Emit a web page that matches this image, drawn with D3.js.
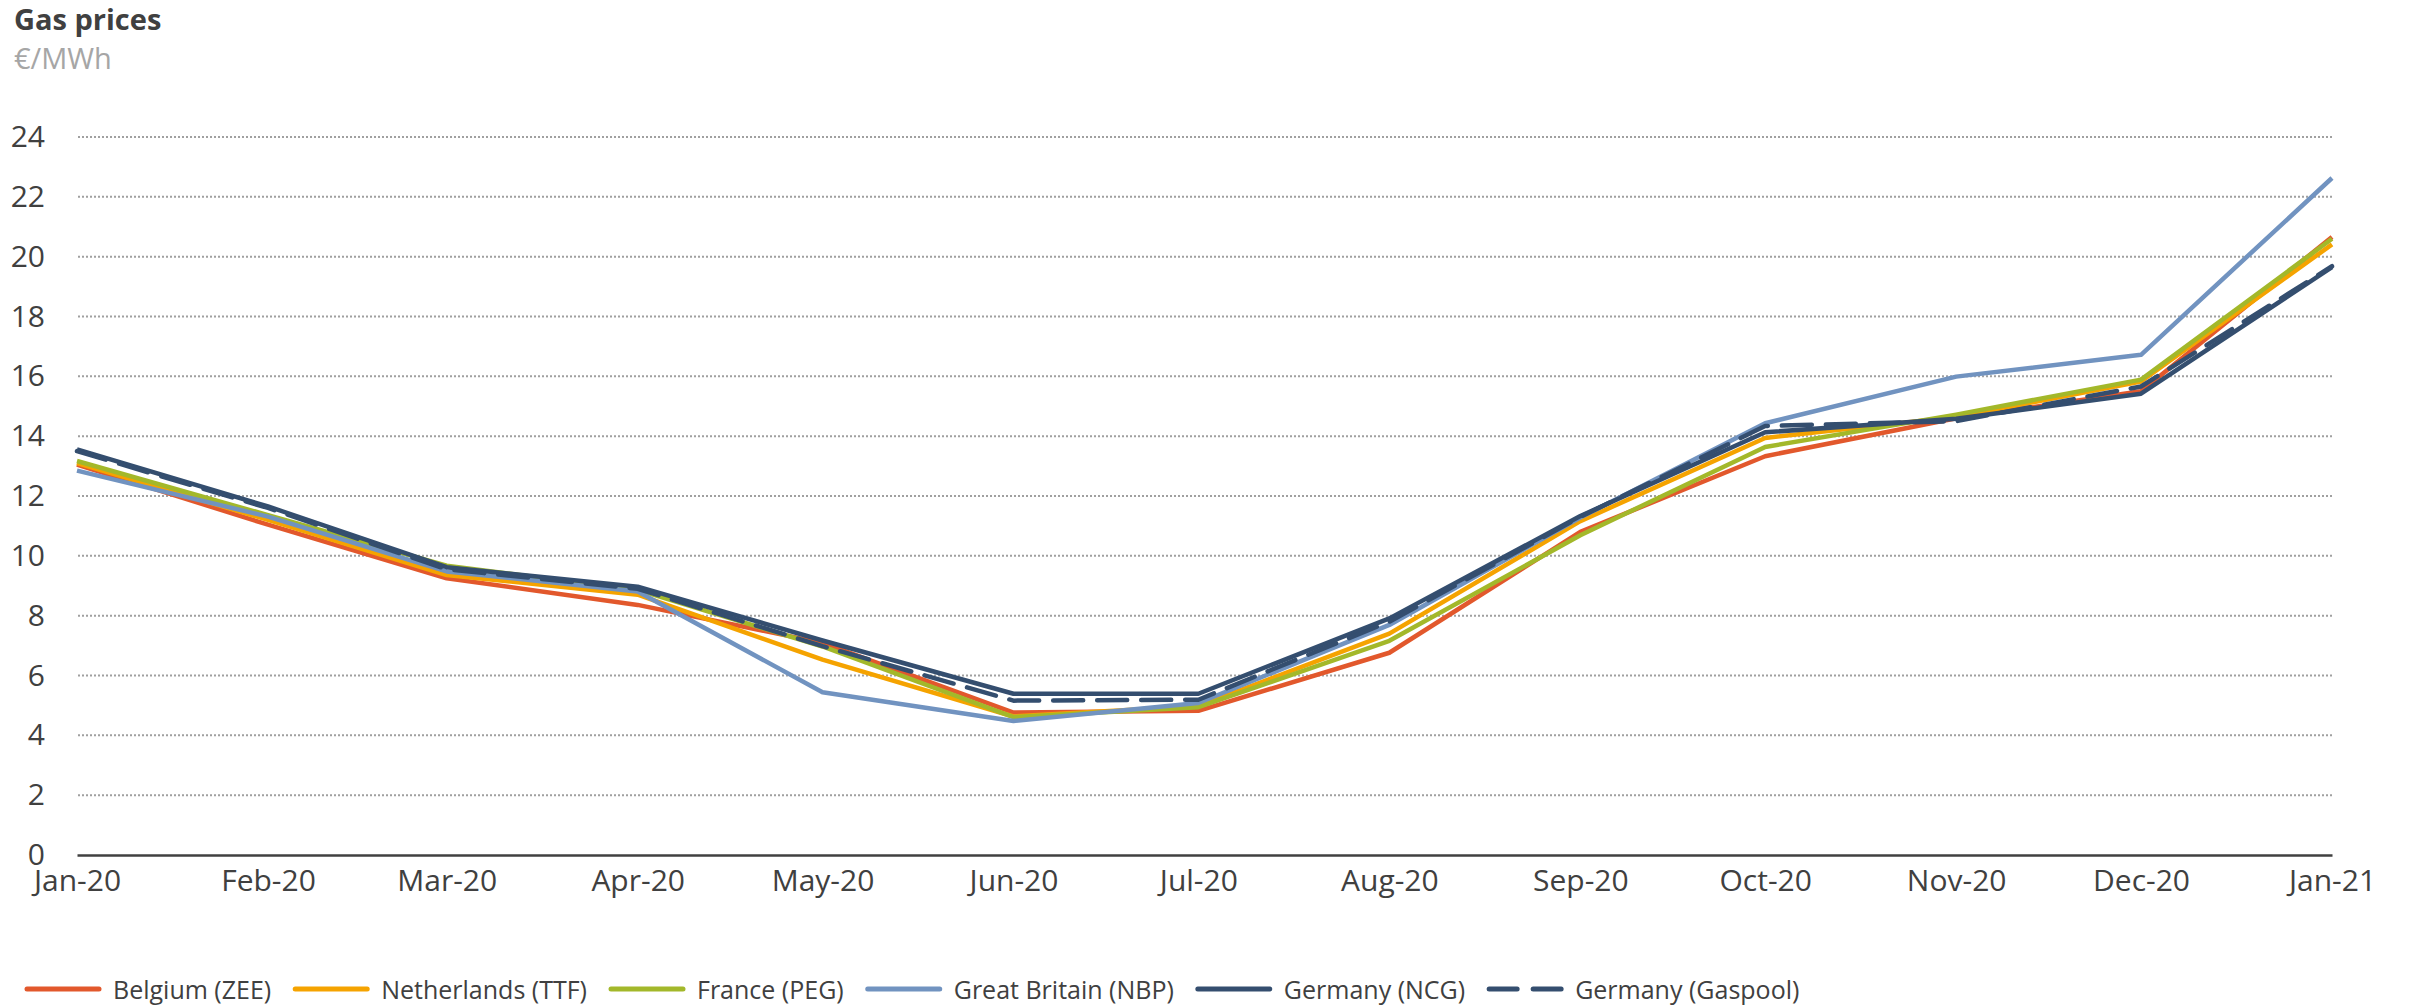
<!DOCTYPE html>
<html>
<head>
<meta charset="utf-8">
<script src="https://cdn.jsdelivr.net/npm/d3@7"></script>
<style>
  body { margin: 0; background: #fff; }
  svg { display: block; font-family: "Open Sans", "Noto Sans", sans-serif; }
</style>
</head>
<body>
<div id="chart"></div>
<script>
// monthly points, first day of each month
const months = ['2020-01-01','2020-02-01','2020-03-01','2020-04-01','2020-05-01','2020-06-01',
    '2020-07-01','2020-08-01','2020-09-01','2020-10-01','2020-11-01','2020-12-01','2021-01-01'];
const monthLabels = ['Jan-20','Feb-20','Mar-20','Apr-20','May-20','Jun-20','Jul-20',
    'Aug-20','Sep-20','Oct-20','Nov-20','Dec-20','Jan-21'];
const yTicks = [0, 2, 4, 6, 8, 10, 12, 14, 16, 18, 20, 22, 24];

const belgium     = [13.05, 11.04, 9.25, 8.36, 7.09, 4.76, 4.82, 6.76, 10.80, 13.33, 14.60, 15.50, 20.66];
const netherlands = [13.10, 11.20, 9.36, 8.70, 6.53, 4.63, 4.98, 7.40, 11.16, 13.94, 14.64, 15.83, 20.41];
const france      = [13.17, 11.36, 9.67, 8.86, 6.97, 4.61, 4.94, 7.16, 10.69, 13.64, 14.72, 15.89, 20.60];
const greatBritain= [12.85, 11.31, 9.48, 8.81, 5.44, 4.48, 5.08, 7.69, 11.28, 14.43, 15.99, 16.72, 22.63];
const germanyNcg  = [13.56, 11.65, 9.62, 8.97, 7.17, 5.39, 5.39, 7.91, 11.33, 14.13, 14.58, 15.42, 19.65];
const gaspool     = [13.50, 11.60, 9.55, 8.90, 6.98, 5.16, 5.19, 7.80, 11.30, 14.34, 14.50, 15.66, 19.68];

const series = [
    {name: 'Belgium (ZEE)', values: belgium, color: '#E2582C'},
    {name: 'Netherlands (TTF)', values: netherlands, color: '#F5A300'},
    {name: 'France (PEG)', values: france, color: '#A3B82A'},
    {name: 'Great Britain (NBP)', values: greatBritain, color: '#7193C0'},
    {name: 'Germany (NCG)', values: germanyNcg, color: '#344E6F'},
    {name: 'Germany (Gaspool)', values: gaspool, color: '#344E6F', dash: '30,14'}
];

const width = 2409, height = 1007;
const parse = d3.timeParse('%Y-%m-%d');
const dates = months.map(parse);

const svg = d3.select('#chart').append('svg')
    .attr('width', width)
    .attr('height', height);

// Title
svg.append('text')
    .attr('x', 14).attr('y', 30)
    .attr('fill', '#404040')
    .style('font-size', '29px')
    .style('font-weight', 'bold')
    .text('Gas prices');

svg.append('text')
    .attr('x', 14).attr('y', 69)
    .attr('fill', '#A6A6A6')
    .style('font-size', '29px')
    .text('€/MWh');

// Scales
const x = d3.scaleTime()
    .domain([dates[0], dates[dates.length - 1]])
    .range([77, 2332]);

const y = d3.scaleLinear()
    .domain([0, 24])
    .range([855, 137]);

// Gridlines
svg.append('g')
    .selectAll('line')
    .data(yTicks.filter(t => t > 0))
    .enter()
    .append('line')
    .attr('x1', 78).attr('x2', 2332)
    .attr('y1', d => y(d)).attr('y2', d => y(d))
    .attr('stroke', '#A0A0A0')
    .attr('stroke-width', 2)
    .attr('stroke-dasharray', '2,2');

// Y axis labels
const yAxis = svg.append('g')
    .attr('transform', 'translate(78,0)')
    .call(d3.axisLeft(y).tickValues(yTicks).tickSize(0).tickPadding(33));
yAxis.select('.domain').remove();
yAxis.selectAll('text')
    .attr('fill', '#404040')
    .style('font-size', '30px')
    .style('font-family', '"Open Sans", sans-serif');

// X axis
const xAxis = svg.append('g')
    .attr('transform', `translate(0,${y(0)})`)
    .call(d3.axisBottom(x).tickValues(dates).tickSize(0).tickPadding(15)
        .tickFormat((d, i) => monthLabels[i]));
xAxis.select('.domain')
    .attr('stroke', '#404040')
    .attr('stroke-width', 2.5);
xAxis.selectAll('text')
    .attr('fill', '#404040')
    .style('font-size', '30px')
    .style('font-family', '"Open Sans", sans-serif');

// Lines
const line = d3.line()
    .x((d, i) => x(dates[i]))
    .y(d => y(d));

svg.append('g')
    .selectAll('path')
    .data(series)
    .enter()
    .append('path')
    .attr('d', d => line(d.values))
    .attr('fill', 'none')
    .attr('stroke', d => d.color)
    .attr('stroke-width', 4.5)
    .attr('stroke-linejoin', 'round')
    .attr('stroke-linecap', d => d.dash ? 'round' : 'butt')
    .attr('stroke-dasharray', d => d.dash || null);

// Legend
const legend = svg.append('g')
    .attr('transform', 'translate(27, 989)');

let lx = 0;
series.forEach(s => {
    const row = legend.append('g').attr('transform', `translate(${lx},0)`);
    row.append('line')
        .attr('x1', 0).attr('x2', 72)
        .attr('y1', 0).attr('y2', 0)
        .attr('stroke', s.color)
        .attr('stroke-width', 5)
        .attr('stroke-linecap', 'round')
        .attr('stroke-dasharray', s.dash ? '28,16' : null);
    const t = row.append('text')
        .attr('x', 86)
        .attr('y', 10)
        .attr('fill', '#404040')
        .style('font-size', '25px')
        .text(s.name);
    lx += 86 + t.node().getComputedTextLength() + 24;
});
</script>
</body>
</html>
